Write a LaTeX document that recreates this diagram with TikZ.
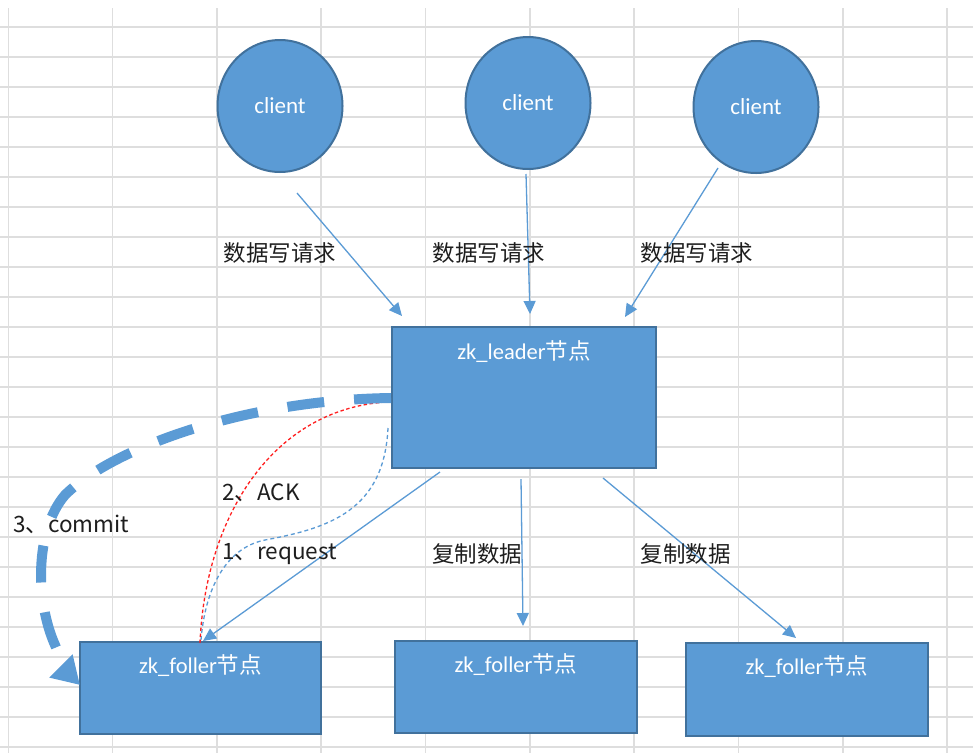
\documentclass[tikz,border=0pt]{standalone}
\usepackage{fontspec}
\setmainfont{Carlito}
\newfontfamily\cjk{Noto Sans CJK SC}
\usetikzlibrary{shapes.geometric,arrows.meta}
\definecolor{xfill}{RGB}{91,155,213}
\definecolor{xborder}{RGB}{65,113,156}
\definecolor{xgrid}{RGB}{222,222,222}
\definecolor{xred}{RGB}{255,30,30}
\definecolor{xtext}{RGB}{30,30,30}
\begin{document}
\begin{tikzpicture}[x=1pt,y=-1pt,
  clientnode/.style={ellipse, draw=xborder, fill=xfill, line width=2pt,
    minimum width=125pt, minimum height=132pt, inner sep=0pt, text=white,
    font=\fontsize{23}{27}\selectfont},
  boxnode/.style={rectangle, draw=xborder, fill=xfill, line width=2pt, inner sep=0pt},
  boxtext/.style={text=white, inner sep=0pt, font=\fontsize{22.5}{26}\selectfont},
  lbl/.style={inner sep=0pt, text=xtext, font=\cjk\fontsize{22.5}{26}\selectfont},
  thinarrow/.style={draw=xfill, line width=1.3pt, -{Triangle[length=13pt,width=12pt]}},
  gridline/.style={draw=xgrid, line width=1.6pt},
  reqline/.style={draw=xfill, line width=1.3pt, dash pattern=on 4pt off 3pt},
  ackline/.style={draw=xred, line width=1.3pt, dash pattern=on 3.5pt off 2.5pt},
  commitline/.style={draw=xfill, line width=10pt, dash pattern=on 37pt off 30pt,
    -{Triangle[length=27pt,width=31pt]}}
]
\useasboundingbox (0,0) rectangle (973,753);
\fill[white] (0,0) rectangle (973,753);
% spreadsheet grid
\foreach \k in {0,...,9} \path[gridline] ({8.3+104.33*\k},8) -- ({8.3+104.33*\k},753);
\foreach \k in {0,...,24} \path[gridline] (0,{26.7+30*\k}) -- (973,{26.7+30*\k});

% clients
\node[clientnode] (C1) at (280,106) {client};
\node[clientnode] (C2) at (528,103) {client};
\node[clientnode] (C3) at (756,107) {client};

% leader and followers
\node[boxnode, minimum width=264pt, minimum height=141pt] (L) at (524,397.5) {};
\node[boxtext] (Lt) at ([yshift=-26pt]L.north) {zk\_leader{\cjk 节点}};
\node[boxnode, minimum width=241pt, minimum height=92pt] (F1) at (200.5,688) {};
\node[boxtext] (F1t) at ([yshift=-25pt]F1.north) {zk\_foller{\cjk 节点}};
\node[boxnode, minimum width=242pt, minimum height=92pt] (F2) at (516,687) {};
\node[boxtext] (F2t) at ([yshift=-25pt]F2.north) {zk\_foller{\cjk 节点}};
\node[boxnode, minimum width=242pt, minimum height=93pt] (F3) at (807,689.5) {};
\node[boxtext] (F3t) at ([yshift=-25pt]F3.north) {zk\_foller{\cjk 节点}};

% connector ends
\coordinate (c1s) at (297,193);  \coordinate (c1e) at (402,316);
\coordinate (c2s) at (526,174);  \coordinate (c2e) at (530,314);
\coordinate (c3s) at (718,168);  \coordinate (c3e) at (625,317);
\coordinate (f1s) at (440,472);  \coordinate (f1e) at (203,641);
\coordinate (f2s) at (521,479);  \coordinate (f2e) at (523,626);
\coordinate (f3s) at (603,478);  \coordinate (f3e) at (796,638);
\coordinate (rqs) at (388,428);  \coordinate (rqe) at (201,640);
\coordinate (aks) at (200,643);  \coordinate (ake) at (386,402);
\coordinate (cms) at (391,398);  \coordinate (cme) at (80,685);

% write requests
\draw[thinarrow] (c1s) -- (c1e);
\draw[thinarrow] (c2s) -- (c2e);
\draw[thinarrow] (c3s) -- (c3e);
% replication
\draw[thinarrow] (f1s) -- (f1e);
\draw[thinarrow] (f2s) -- (f2e);
\draw[thinarrow] (f3s) -- (f3e);

% request / ack / commit
\draw[reqline] (rqs) .. controls (384,510) and (330,528) .. (265,540)
  .. controls (225,548) and (205,590) .. (rqe);
\draw[ackline] (aks) .. controls (205,520) and (270,410) .. (ake);
\draw[commitline] (cms) .. controls (240,400) and (110,450) .. (65,495)
  .. controls (35,530) and (35,600) .. (55,645)
  .. controls (62,662) and (70,675) .. (cme);

% labels
\node[lbl] (w1) at (280,253) {数据写请求};
\node[lbl] (w2) at (489,253) {数据写请求};
\node[lbl] (w3) at (697,253) {数据写请求};
\node[lbl] (r1) at (477,554) {复制数据};
\node[lbl] (r2) at (685.5,554) {复制数据};
\node[lbl, anchor=west] (ack) at (222,493) {2、ACK};
\node[lbl, anchor=west] (req) at (222,554) {1、request};
\node[lbl, anchor=west] (cmt) at (13,524) {3、commit};
\end{tikzpicture}
\end{document}
